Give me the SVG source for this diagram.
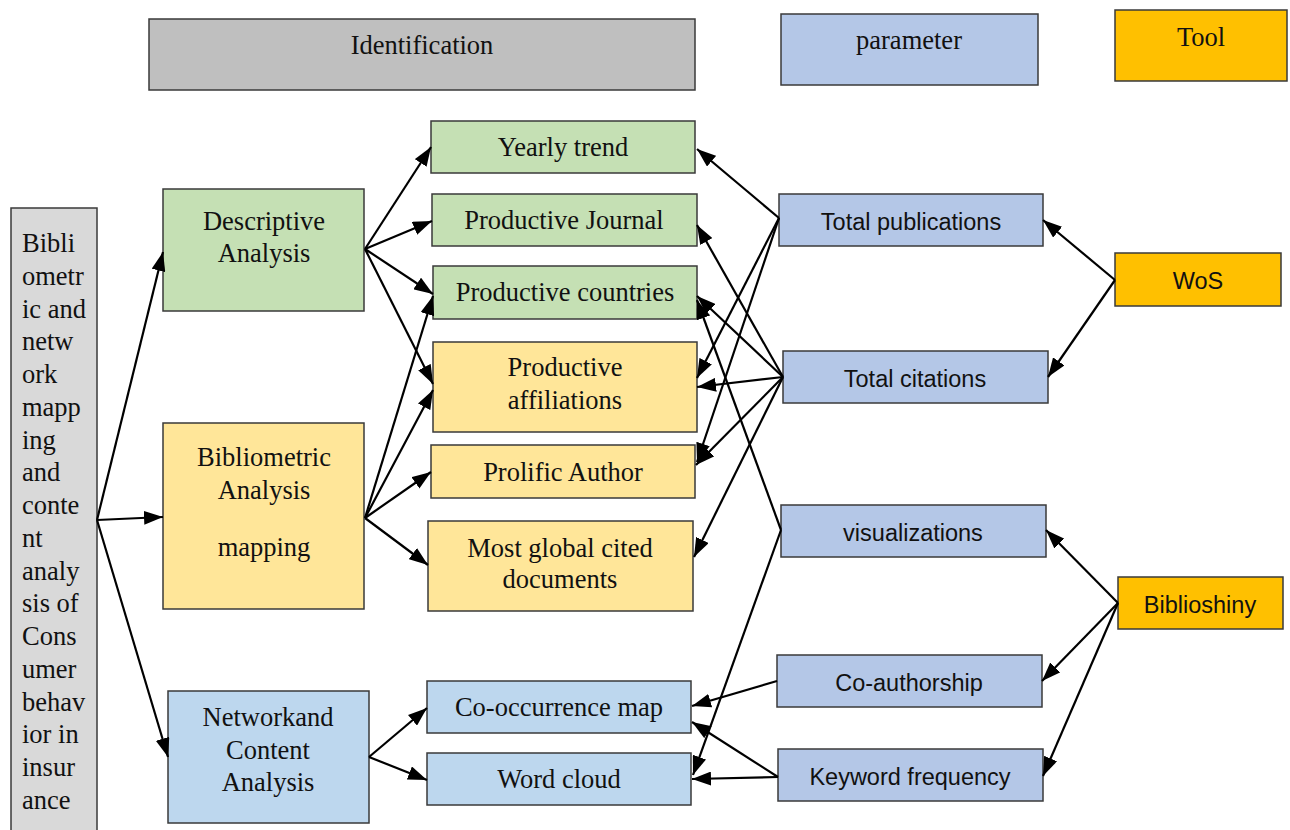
<svg xmlns="http://www.w3.org/2000/svg" width="1290" height="830" viewBox="0 0 1290 830">
<style>
rect{stroke:#3a3a3a;stroke-width:1.5}
.s{font-family:"Liberation Serif","Times New Roman",serif;font-size:26.5px;fill:#111;text-anchor:middle}
.l{font-family:"Liberation Serif","Times New Roman",serif;font-size:26.5px;fill:#111}
.c{font-family:"Liberation Sans",Arial,sans-serif;font-size:23.5px;fill:#111;text-anchor:middle}
.gray{fill:#bfbfbf}.lg{fill:#d9d9d9}.green{fill:#c5e0b4}.yel{fill:#ffe699}.lb{fill:#bdd7ee}.pb{fill:#b4c7e7}.or{fill:#ffc000}
#conn line{stroke:#000;stroke-width:2.2;marker-end:url(#ah)}
</style>
<defs>
<marker id="ah" viewBox="0 0 19 14" refX="19" refY="7" markerWidth="19" markerHeight="14" markerUnits="userSpaceOnUse" orient="auto">
<path d="M0,0 L19,7 L0,14 z" fill="#000"/>
</marker>
</defs>
<rect width="1290" height="830" fill="#fff" style="stroke:none"/>
<g id="identification"><rect class="gray" x="149" y="19" width="546" height="71"/><text class="s" x="422" y="54">Identification</text></g>
<g id="parameter"><rect class="pb" x="781" y="14" width="257" height="71"/><text class="s" x="909" y="49">parameter</text></g>
<g id="tool"><rect class="or" x="1115" y="10" width="172" height="71"/><text class="s" x="1201" y="46">Tool</text></g>
<g id="main"><rect class="lg" x="11" y="208" width="86" height="630"/>
<text class="l" x="22" y="252">Bibli</text><text class="l" x="22" y="285">ometr</text><text class="l" x="22" y="318">ic and</text><text class="l" x="22" y="350">netw</text><text class="l" x="22" y="383">ork</text><text class="l" x="22" y="416">mapp</text><text class="l" x="22" y="449">ing</text><text class="l" x="22" y="481">and</text><text class="l" x="22" y="514">conte</text><text class="l" x="22" y="547">nt</text><text class="l" x="22" y="580">analy</text><text class="l" x="22" y="612">sis of</text><text class="l" x="22" y="645">Cons</text><text class="l" x="22" y="678">umer</text><text class="l" x="22" y="711">behav</text><text class="l" x="22" y="743">ior in</text><text class="l" x="22" y="776">insur</text><text class="l" x="22" y="809">ance</text></g>
<g id="descriptive"><rect class="green" x="163" y="189" width="201" height="122"/><text class="s" x="264" y="230">Descriptive</text><text class="s" x="264" y="262">Analysis</text></g>
<g id="bibliometric"><rect class="yel" x="163" y="423" width="201" height="186"/><text class="s" x="264" y="466">Bibliometric</text><text class="s" x="264" y="499">Analysis</text><text class="s" x="264" y="556">mapping</text></g>
<g id="network"><rect class="lb" x="168" y="691" width="201" height="132"/><text class="s" x="268" y="726">Networkand</text><text class="s" x="268" y="759">Content</text><text class="s" x="268" y="791">Analysis</text></g>
<g id="yearly"><rect class="green" x="431" y="121" width="264" height="52"/><text class="s" x="563" y="156">Yearly trend</text></g>
<g id="journal"><rect class="green" x="432" y="194" width="265" height="52"/><text class="s" x="564" y="229">Productive Journal</text></g>
<g id="countries"><rect class="green" x="433" y="266" width="264" height="53"/><text class="s" x="565" y="301">Productive countries</text></g>
<g id="affiliations"><rect class="yel" x="433" y="342" width="264" height="90"/><text class="s" x="565" y="376">Productive</text><text class="s" x="565" y="409">affiliations</text></g>
<g id="author"><rect class="yel" x="431" y="445" width="264" height="53"/><text class="s" x="563" y="481">Prolific Author</text></g>
<g id="cited"><rect class="yel" x="428" y="521" width="265" height="90"/><text class="s" x="560" y="557">Most global cited</text><text class="s" x="560" y="588">documents</text></g>
<g id="cooccurrence"><rect class="lb" x="427" y="681" width="264" height="52"/><text class="s" x="559" y="716">Co-occurrence map</text></g>
<g id="wordcloud"><rect class="lb" x="427" y="753" width="264" height="52"/><text class="s" x="559" y="788">Word cloud</text></g>
<g id="totalpub"><rect class="pb" x="779" y="194" width="264" height="52"/><text class="c" x="911" y="230">Total publications</text></g>
<g id="totalcit"><rect class="pb" x="783" y="351" width="265" height="52"/><text class="c" x="915" y="387">Total citations</text></g>
<g id="visual"><rect class="pb" x="781" y="505" width="265" height="52"/><text class="c" x="913" y="541">visualizations</text></g>
<g id="coauthor"><rect class="pb" x="777" y="655" width="265" height="52"/><text class="c" x="909" y="691">Co-authorship</text></g>
<g id="keyword"><rect class="pb" x="778" y="749" width="265" height="52"/><text class="c" x="910" y="785">Keyword frequency</text></g>
<g id="wos"><rect class="or" x="1115" y="253" width="166" height="53"/><text class="c" x="1198" y="289">WoS</text></g>
<g id="biblioshiny"><rect class="or" x="1118" y="577" width="165" height="52"/><text class="c" x="1200" y="613">Biblioshiny</text></g>
<g id="conn">
<line x1="97" y1="520" x2="163" y2="252"/>
<line x1="97" y1="520" x2="163" y2="517"/>
<line x1="97" y1="520" x2="168" y2="757"/>
<line x1="365" y1="249" x2="431" y2="147"/>
<line x1="365" y1="249" x2="432" y2="221"/>
<line x1="365" y1="249" x2="433" y2="294"/>
<line x1="365" y1="249" x2="433" y2="384"/>
<line x1="365" y1="518" x2="433" y2="296"/>
<line x1="365" y1="518" x2="433" y2="390"/>
<line x1="365" y1="518" x2="431" y2="472"/>
<line x1="365" y1="518" x2="428" y2="565"/>
<line x1="369" y1="757" x2="427" y2="708"/>
<line x1="369" y1="757" x2="427" y2="780"/>
<line x1="779" y1="218" x2="697" y2="149"/>
<line x1="779" y1="218" x2="697" y2="378"/>
<line x1="779" y1="218" x2="697" y2="462"/>
<line x1="783" y1="377" x2="697" y2="225"/>
<line x1="783" y1="377" x2="697" y2="296"/>
<line x1="783" y1="377" x2="697" y2="387"/>
<line x1="783" y1="377" x2="696" y2="465"/>
<line x1="783" y1="377" x2="694" y2="557"/>
<line x1="781" y1="530" x2="697" y2="300"/>
<line x1="781" y1="530" x2="693" y2="775"/>
<line x1="777" y1="681" x2="692" y2="706"/>
<line x1="778" y1="777" x2="692" y2="722"/>
<line x1="778" y1="777" x2="692" y2="779"/>
<line x1="1115" y1="280" x2="1043" y2="220"/>
<line x1="1115" y1="280" x2="1048" y2="377"/>
<line x1="1118" y1="603" x2="1046" y2="530"/>
<line x1="1118" y1="603" x2="1042" y2="681"/>
<line x1="1118" y1="603" x2="1043" y2="776"/>
</g>
</svg>
